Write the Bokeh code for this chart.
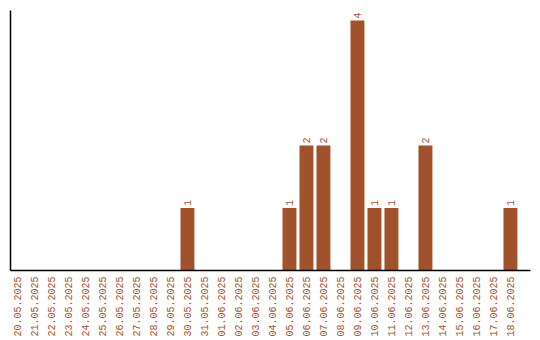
import math
from bokeh.plotting import figure
from bokeh.models import ColumnDataSource, Range1d, FixedTicker
from bokeh.core.properties import value
from bokeh.embed import file_html
from bokeh.resources import INLINE

dates = ["20.05.2025", "21.05.2025", "22.05.2025", "23.05.2025", "24.05.2025",
         "25.05.2025", "26.05.2025", "27.05.2025", "28.05.2025", "29.05.2025",
         "30.05.2025", "31.05.2025", "01.06.2025", "02.06.2025", "03.06.2025",
         "04.06.2025", "05.06.2025", "06.06.2025", "07.06.2025", "08.06.2025",
         "09.06.2025", "10.06.2025", "11.06.2025", "12.06.2025", "13.06.2025",
         "14.06.2025", "15.06.2025", "16.06.2025", "17.06.2025", "18.06.2025"]
counts = [0, 0, 0, 0, 0, 0, 0, 0, 0, 0,
          1, 0, 0, 0, 0, 0, 1, 2, 2, 0,
          4, 1, 1, 0, 2, 0, 0, 0, 0, 1]

COLOR = "#A0522D"
FONT = "Liberation Mono"

xs = list(range(len(dates)))
src = ColumnDataSource(dict(x=xs, y=counts))
nz = [i for i, c in enumerate(counts) if c > 0]
lab = ColumnDataSource(dict(x=[xs[i] for i in nz], y=[counts[i] for i in nz],
                            t=[str(counts[i]) for i in nz]))

p = figure(width=540, height=340, output_backend="svg", toolbar_location=None,
           x_range=Range1d(-0.41, 30.18), y_range=Range1d(0, 4.16),
           min_border_left=10, min_border_right=10, min_border_top=10,
           min_border_bottom=70)
p.outline_line_color = None
p.xgrid.visible = False
p.ygrid.visible = False
p.background_fill_color = "white"
p.border_fill_color = "white"

p.vbar(x="x", top="y", width=0.82, bottom=0, source=src, fill_color=COLOR,
       line_color=None)
p.text(x="x", y="y", text="t", source=lab, angle=math.pi / 2,
       text_align="left", text_baseline="middle", y_offset=-2,
       text_font=value(FONT), text_font_size="10px", text_color=COLOR)

xa = p.xaxis[0]
xa.ticker = FixedTicker(ticks=xs)
xa.major_label_overrides = {i: d for i, d in zip(xs, dates)}
xa.major_label_orientation = math.pi / 2
xa.major_label_text_font = FONT
xa.major_label_text_font_size = "10px"
xa.major_label_text_color = COLOR
xa.major_tick_line_color = None
xa.minor_tick_line_color = None
xa.major_tick_out = 0
xa.major_tick_in = 0
xa.major_label_standoff = 6
xa.axis_line_color = "black"
xa.axis_line_width = 1.5

ya = p.yaxis[0]
ya.ticker = FixedTicker(ticks=[])
ya.major_tick_line_color = None
ya.minor_tick_line_color = None
ya.major_label_text_font_size = "0px"
ya.major_tick_out = 0
ya.major_label_standoff = 0
ya.axis_line_color = "black"
ya.axis_line_width = 1.5

open("out.html", "w").write(file_html(p, INLINE))
